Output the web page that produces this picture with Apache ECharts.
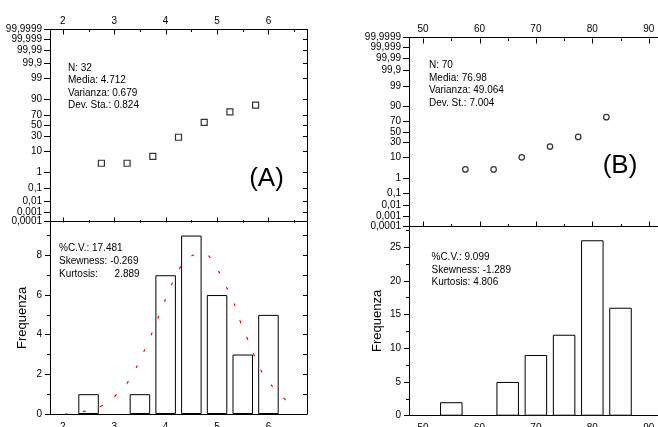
<!DOCTYPE html>
<html>
<head>
<meta charset="utf-8">
<script src="https://cdn.jsdelivr.net/npm/echarts@6/dist/echarts.min.js"></script>
<style>
  html, body { margin: 0; padding: 0; background: #fff; }
  #chart { width: 658px; height: 427px; }
</style>
</head>
<body>
<div id="chart"></div>
<script>
// scala di probabilità (percentuali) e relative etichette
const probTicks = [0.0001, 0.001, 0.01, 0.1, 1, 10, 30, 50, 70, 90, 99, 99.9, 99.99, 99.999, 99.9999]
const probLabels = ['0,0001', '0,001', '0,01', '0,1', '1', '10', '30', '50', '70', '90', '99', '99,9', '99,99', '99,999', '99,9999']

// pannello (A)
const probXA = [2.75, 3.25, 3.75, 4.25, 4.75, 5.25, 5.75]
const probYA = [3.1, 3.1, 6.3, 28.1, 56.3, 75, 84.4]
const binsA = [2.5, 3.5, 4, 4.5, 5, 5.5, 6]
const countsA = [1, 1, 7, 9, 6, 3, 5]
const fitXA = [2.04, 2.41, 2.75, 3.05, 3.29, 3.47, 3.63, 3.78, 3.91, 4.05, 4.2, 4.42, 4.72, 4.98, 5.16, 5.31, 5.44, 5.58, 5.72, 5.89, 6.11, 6.37]
const fitYA = [0, 0.13, 0.4, 0.99, 1.71, 2.55, 3.48, 4.37, 5.24, 6.11, 6.97, 7.81, 8.09, 7.39, 6.5, 5.71, 4.74, 3.86, 2.97, 2.05, 1.29, 0.62]
const xTicksA = [2, 3, 4, 5, 6]
const xMinorA = [2.5, 3.5, 4.5, 5.5, 6.5]
const yTicksA = [0, 2, 4, 6, 8]
const yMinorA = [1, 3, 5, 7, 9]
const yRightA = [1, 2, 3, 4, 5, 6, 7, 8, 9]
const statsTopA = ['N: 32', 'Media: 4.712', 'Varianza: 0.679', 'Dev. Sta.: 0.824']
const statsBotA = ['%C.V.: 17.481', 'Skewness: -0.269', 'Kurtosis:      2.889']

// pannello (B)
const probXB = [57.5, 62.5, 67.5, 72.5, 77.5, 82.5]
const probYB = [2.9, 2.9, 10, 22.9, 40, 77.1]
const binsB = [55, 65, 70, 75, 80, 85]
const countsB = [2, 5, 9, 12, 26, 16]
const xTicksB = [50, 60, 70, 80, 90]
const xMinorB = [55, 65, 75, 85]
const yTicksB = [0, 5, 10, 15, 20, 25]
const yMinorB = [2.5, 7.5, 12.5, 17.5, 22.5, 27.5]
const yRightB = [5, 10, 15, 20, 25]
const statsTopB = ['N: 70', 'Media: 76.98', 'Varianza: 49.064', 'Dev. St.: 7.004']
const statsBotB = ['%C.V.: 9.099', 'Skewness: -1.289', 'Kurtosis: 4.806']

const FONT = 'Liberation Sans, Arial, sans-serif'

// inversa della normale standard (Acklam)
function probit(p) {
  const a = [-3.969683028665376e+01, 2.209460984245205e+02, -2.759285104469687e+02, 1.383577518672690e+02, -3.066479806614716e+01, 2.506628277459239e+00]
  const b = [-5.447609879822406e+01, 1.615858368580409e+02, -1.556989798598866e+02, 6.680131188771972e+01, -1.328068155288572e+01]
  const c = [-7.784894002430293e-03, -3.223964580411365e-01, -2.400758277161838e+00, -2.549732539343734e+00, 4.374664141464968e+00, 2.938163982698783e+00]
  const d = [7.784695709041462e-03, 3.224671290700398e-01, 2.445134137142996e+00, 3.754408661907416e+00]
  const pl = 0.02425
  let q, r
  if (p < pl) {
    q = Math.sqrt(-2 * Math.log(p))
    return (((((c[0] * q + c[1]) * q + c[2]) * q + c[3]) * q + c[4]) * q + c[5]) / ((((d[0] * q + d[1]) * q + d[2]) * q + d[3]) * q + 1)
  }
  if (p > 1 - pl) {
    q = Math.sqrt(-2 * Math.log(1 - p))
    return -(((((c[0] * q + c[1]) * q + c[2]) * q + c[3]) * q + c[4]) * q + c[5]) / ((((d[0] * q + d[1]) * q + d[2]) * q + d[3]) * q + 1)
  }
  q = p - 0.5
  r = q * q
  return (((((a[0] * r + a[1]) * r + a[2]) * r + a[3]) * r + a[4]) * r + a[5]) * q / (((((b[0] * r + b[1]) * r + b[2]) * r + b[3]) * r + b[4]) * r + 1)
}

const zTicks = probTicks.map(p => probit(p / 100))
const zMin = zTicks[0]
const zMax = zTicks[zTicks.length - 1]
// etichette su due assi (pari / dispari) così non si nascondono a vicenda
const zEven = zTicks.filter((z, i) => i % 2 === 0)
const zOdd = zTicks.filter((z, i) => i % 2 === 1)
const probFmt = v => {
  let best = 0
  zTicks.forEach((z, i) => { if (Math.abs(z - v) < Math.abs(zTicks[best] - v)) best = i })
  return probLabels[best]
}

// asse generico: tick e etichette in posizioni esplicite
function ax(grid, pos, min, max, tick, label) {
  return {
    type: 'value',
    gridIndex: grid,
    position: pos,
    min: min,
    max: max,
    splitLine: { show: false },
    axisLine: { show: !!tick.line, onZero: false, lineStyle: { color: '#000', width: 1 } },
    axisTick: tick.values
      ? { show: true, inside: !!tick.inside, length: tick.len, customValues: tick.values, lineStyle: { color: '#000', width: 1 } }
      : { show: false },
    axisLabel: label
      ? {
          show: true, customValues: label.values, formatter: label.fmt || (v => String(v)),
          margin: label.margin, color: '#000', fontSize: 10, lineHeight: 8, fontFamily: FONT,
          showMinLabel: true, showMaxLabel: true, hideOverlap: false
        }
      : { show: false }
  }
}

const xAxes = [
  ax(0, 'top', 1.75, 6.75, { line: 1 }, { values: xTicksA, margin: 4 }),
  ax(0, 'bottom', 1.75, 6.75, { line: 1 }),
  ax(1, 'bottom', 1.75, 6.75, { line: 1 }, { values: xTicksA, margin: 9 }),
  ax(2, 'top', 47.5, 92.5, { line: 1 }, { values: xTicksB, margin: 4 }),
  ax(2, 'bottom', 47.5, 92.5, { line: 1 }),
  ax(3, 'bottom', 47.5, 92.5, { line: 1 }, { values: xTicksB, margin: 9 })
]

const yAxes = [
  ax(0, 'left', zMin, zMax, { line: 1, values: zTicks, len: 6 }, { values: zEven, fmt: probFmt, margin: 8 }),
  ax(0, 'right', zMin, zMax, { line: 1, values: zTicks, inside: true, len: 4 }),
  ax(1, 'left', 0, 9.7, { line: 1, values: yTicksA, len: 5 }, { values: yTicksA, margin: 8 }),
  ax(1, 'left', 0, 9.7, { values: yMinorA, len: 3 }),
  ax(1, 'right', 0, 9.7, { line: 1, values: yRightA, inside: true, len: 4 }),
  ax(2, 'left', zMin, zMax, { line: 1, values: zTicks, len: 6 }, { values: zEven, fmt: probFmt, margin: 8 }),
  ax(2, 'right', zMin, zMax, { line: 1, values: zTicks, inside: true, len: 4 }),
  ax(3, 'left', 0, 28.1, { line: 1, values: yTicksB, len: 5 }, { values: yTicksB, margin: 8 }),
  ax(3, 'left', 0, 28.1, { values: yMinorB, len: 3 }),
  ax(3, 'right', 0, 28.1, { line: 1, values: yRightB, inside: true, len: 4 }),
  ax(0, 'left', zMin, zMax, {}, { values: zOdd, fmt: probFmt, margin: 8 }),
  ax(2, 'left', zMin, zMax, {}, { values: zOdd, fmt: probFmt, margin: 8 })
]
// titolo asse y dei due istogrammi
const nameStyle = { color: '#000', fontSize: 13, fontFamily: FONT }
Object.assign(yAxes[2], { name: 'Frequenza', nameLocation: 'middle', nameGap: 21, nameTextStyle: nameStyle })
Object.assign(yAxes[7], { name: 'Frequenza', nameLocation: 'middle', nameGap: 25, nameTextStyle: nameStyle })

function textBlock(x, y, lines, lh) {
  return {
    type: 'text', x: x, y: y, z: 10,
    style: { text: lines.join('\n'), font: '10px ' + FONT, fill: '#000', lineHeight: lh, align: 'left', verticalAlign: 'top' }
  }
}

const texts = [
  textBlock(68, 61.5, statsTopA, 12.5),
  textBlock(59, 242, statsBotA, 12.8),
  textBlock(429, 59.5, statsTopB, 12.4),
  textBlock(431.5, 251.4, statsBotB, 12.5),
  { type: 'text', x: 266.5, y: 179, style: { text: '(A)', font: '26px ' + FONT, fill: '#000', align: 'center', verticalAlign: 'middle' } },
  { type: 'text', x: 620, y: 166, style: { text: '(B)', font: '26px ' + FONT, fill: '#000', align: 'center', verticalAlign: 'middle' } }
]

const myChart = echarts.init(document.getElementById('chart'))
const options = {
  animation: false,
  backgroundColor: '#fff',
  grid: [
    { left: 50, top: 29.3, width: 257, height: 192.4, outerBoundsMode: 'none' },
    { left: 50, top: 221.7, width: 257, height: 192.3, outerBoundsMode: 'none' },
    { left: 409, top: 37.7, width: 253.8, height: 188.4, outerBoundsMode: 'none' },
    { left: 409, top: 226.1, width: 253.8, height: 189.6, outerBoundsMode: 'none' }
  ],
  xAxis: xAxes,
  yAxis: yAxes,
  graphic: texts,
  series: [
    {
      type: 'scatter', xAxisIndex: 0, yAxisIndex: 0,
      symbol: 'rect', symbolSize: 6,
      itemStyle: { color: '#fff', borderColor: '#000', borderWidth: 1.2 },
      data: probXA.map((x, i) => [x, probit(probYA[i] / 100)])
    },
    {
      type: 'bar', xAxisIndex: 2, yAxisIndex: 2, barWidth: 20.5,
      itemStyle: { color: '#fff', borderColor: '#000', borderWidth: 1 },
      data: binsA.map((x, i) => [x, countsA[i]])
    },
    {
      type: 'line', xAxisIndex: 2, yAxisIndex: 2, smooth: true, showSymbol: false, symbol: 'none',
      lineStyle: { color: '#ff0000', width: 1.2, type: [3, 15] },
      data: fitXA.map((x, i) => [x, fitYA[i]]),
      z: 5
    },
    {
      type: 'scatter', xAxisIndex: 3, yAxisIndex: 5,
      symbol: 'circle', symbolSize: 5.5,
      itemStyle: { color: '#fff', borderColor: '#000', borderWidth: 1.2 },
      data: probXB.map((x, i) => [x, probit(probYB[i] / 100)])
    },
    {
      type: 'bar', xAxisIndex: 5, yAxisIndex: 7, barWidth: 22.5,
      itemStyle: { color: '#fff', borderColor: '#000', borderWidth: 1 },
      data: binsB.map((x, i) => [x, countsB[i]])
    }
  ]
}
myChart.setOption(options, true)

// tick interni dell'asse x (sopra e sotto) nei pannelli di probabilità,
// posizionati con la scala degli assi tramite convertToPixel
function xTickEls(xIdx, yIdx, values, len) {
  const els = []
  values.forEach(v => {
    const top = myChart.convertToPixel({ xAxisIndex: xIdx, yAxisIndex: yIdx }, [v, zMax])
    const bot = myChart.convertToPixel({ xAxisIndex: xIdx, yAxisIndex: yIdx }, [v, zMin])
    const x = Math.round(top[0]) + 0.5
    const yt = Math.round(top[1]) + 0.5
    const yb = Math.round(bot[1]) + 0.5
    els.push({ type: 'line', z: 100, silent: true, shape: { x1: x, y1: yt, x2: x, y2: yt + len }, style: { stroke: '#000', lineWidth: 1 } })
    els.push({ type: 'line', z: 100, silent: true, shape: { x1: x, y1: yb, x2: x, y2: yb - len }, style: { stroke: '#000', lineWidth: 1 } })
  })
  return els
}
myChart.setOption({
  graphic: texts.concat(
    xTickEls(0, 0, xTicksA, 5),
    xTickEls(0, 0, xMinorA, 2.5),
    xTickEls(3, 5, xTicksB, 5),
    xTickEls(3, 5, xMinorB, 2.5)
  )
})

window.addEventListener('resize', () => {
  myChart.resize()
})
</script>
</body>
</html>
